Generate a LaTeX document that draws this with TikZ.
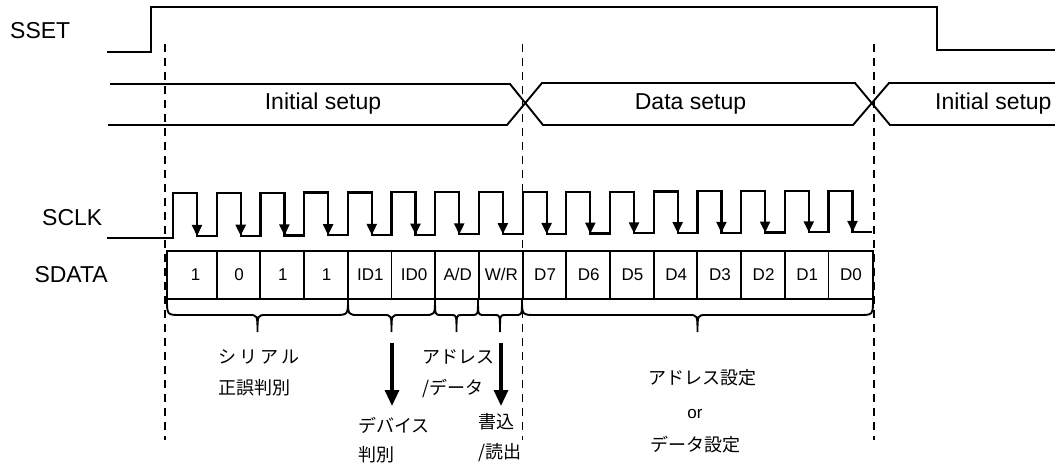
\documentclass[tikz,border=0pt]{standalone}
\usepackage{fontspec}
\setmainfont{Liberation Sans}
\newfontfamily\jpfont{Noto Sans CJK JP}
\usetikzlibrary{arrows.meta}
\newcommand\mybrace[4]{%
  \pgfmathsetmacro\bxm{(#1+#2)/2}%
  \draw[brc] (#1,299) .. controls (#1,315) .. (#1+#3,315) -- (\bxm-#4,315)
    .. controls (\bxm,315) .. (\bxm,332) .. controls (\bxm,315) .. (\bxm+#4,315)
    -- (#2-#3,315) .. controls (#2,315) .. (#2,299);
}
\begin{document}
\begin{tikzpicture}[x=1pt,y=-1pt,
  sig/.style={line width=1.9pt, line join=miter},
  clk/.style={line width=2.2pt},
  guide/.style={line width=1.6pt, dash pattern=on 8pt off 6pt},
  lbl/.style={font=\fontsize{23}{26}\selectfont, inner sep=0pt},
  cell/.style={font=\fontsize{17}{20}\selectfont, inner sep=0pt, anchor=base},
  jp/.style={font={\jpfont\fontsize{18}{20}\selectfont}, inner sep=0pt, anchor=west},
  brc/.style={line width=1.9pt},
  boxline/.style={line width=1.9pt},
  bigarrow/.style={line width=3.2pt, -{Triangle[width=14pt,length=16pt]}},
  edgearrow/.style={line width=2.2pt, -{Triangle[width=10pt,length=11pt]}}
]
\useasboundingbox (0,0) rectangle (1055,465);

% signal names
\node[lbl, anchor=base west] (sset) at (10,39) {SSET};
\node[lbl, anchor=base west] (sclk) at (42,225.5) {SCLK};
\node[lbl, anchor=base east] (sdata) at (108,283) {SDATA};

% SSET
\draw[sig] (107,52) -- (151,52) -- (151,7) -- (937,7) -- (937,50) -- (1055,50);

% bus
\draw[sig] (110,84) -- (510,84) -- (543,125) -- (853,125) -- (889,83) -- (1055,83);
\draw[sig] (108,125) -- (507,125) -- (542,83) -- (855,83) -- (890,125) -- (1055,125);
\node[lbl, anchor=base] (init1) at (323,110) {Initial setup};
\node[lbl, anchor=base] (datas) at (690.5,110) {Data setup};
\node[lbl, anchor=base west] (init2) at (935,110) {Initial setup};

% guide lines
\draw[guide] (165,44) -- (165,440);
\draw[guide] (522.5,44) -- (522.5,440);
\draw[guide] (874,44) -- (874,440);

% SCLK
\draw[clk] (107,238) -- (173,238)
  \foreach \k [evaluate=\k as \r using 173+43.7*\k,
               evaluate=\k as \f using 197+43.7*\k,
               evaluate=\k as \rn using 173+43.7*(\k+1),
               evaluate=\k as \yh using 193-2*\k/15,
               evaluate=\k as \yl using 236-4*\k/15] in {0,...,15}
  { -- (\r,\yh) -- (\f,\yh) -- (\f,\yl) -- (\rn,\yl) };
\foreach \k [evaluate=\k as \f using 197+43.7*\k,
             evaluate=\k as \yh using 193-2*\k/15,
             evaluate=\k as \yl using 236-4*\k/15] in {0,...,15}
  \draw[edgearrow] (\f,\yh) -- (\f,\yl);

% SDATA
\draw[boxline] (167,251) rectangle (873,299);
\foreach \k [evaluate=\k as \x using 173+43.7*\k] in {1,...,15}
  \draw[boxline] (\x,251) -- (\x,299);
\foreach \t [count=\i from 0, evaluate=\i as \cx using 195.5+43.7*\i] in
  {1,0,1,1,ID1,ID0,A/D,W/R,D7,D6,D5,D4,D3,D2,D1,D0}
  \node[cell] (c\i) at (\cx,280) {\t};

% braces
\mybrace{167}{348}{14}{9}
\mybrace{348}{435}{11}{8}
\mybrace{435}{478}{6}{5}
\mybrace{478}{522}{6}{5}
\mybrace{522}{873}{14}{9}

% arrows
\coordinate (a1s) at (392,343); \coordinate (a1e) at (392,406);
\coordinate (a2s) at (501,343); \coordinate (a2e) at (501,406);
\draw[bigarrow] (a1s) -- (a1e);
\draw[bigarrow] (a2s) -- (a2e);

% Japanese labels
\node[jp] (t1a) at (218,357) {シ\hspace{3pt}リ\hspace{3pt}ア\hspace{3pt}ル};
\node[jp] (t1b) at (218,388) {正誤判別};
\node[jp] (t2a) at (358,425) {デバイス};
\node[jp] (t2b) at (358,455) {判別};
\node[jp] (t3a) at (422,357) {アドレス};
\node[jp] (t3b) at (422,388) {/データ};
\node[jp] (t4a) at (478,422) {書込};
\node[jp] (t4b) at (478,453) {/読出};
\node[jp, anchor=center] (t5a) at (702,378) {アドレス設定};
\node[cell] (t5b) at (695,418) {or};
\node[jp, anchor=center] (t5c) at (695,445) {データ設定};
\end{tikzpicture}
\end{document}
